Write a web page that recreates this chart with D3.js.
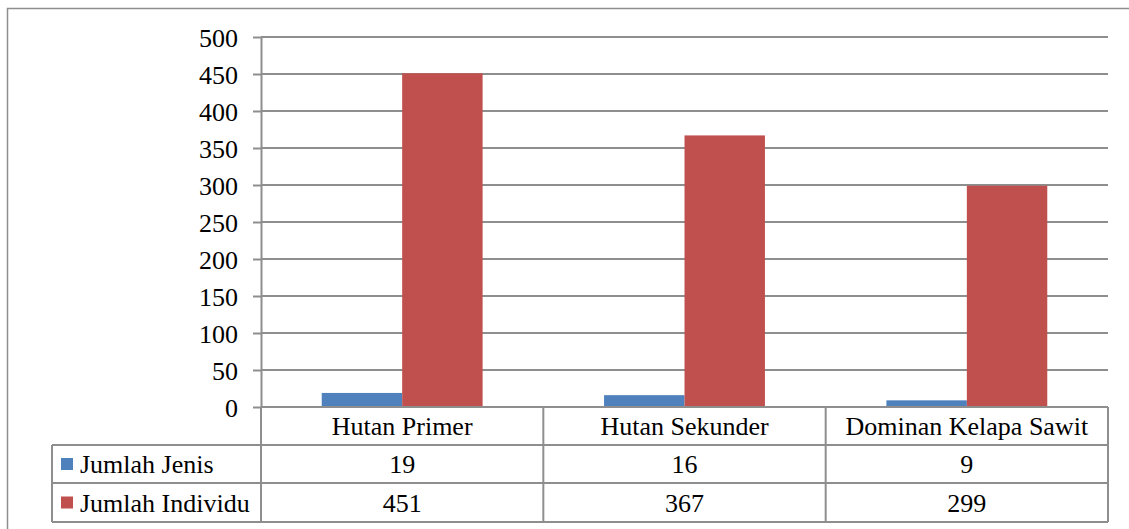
<!DOCTYPE html>
<html>
<head>
<meta charset="utf-8">
<script src="https://cdn.jsdelivr.net/npm/d3@7"></script>
</head>
<body style="margin:0;background:#fff">
<div id="chart"></div>
<script>
const categories = ["Hutan Primer", "Hutan Sekunder", "Dominan Kelapa Sawit"];
const seriesNames = ["Jumlah Jenis", "Jumlah Individu"];
const jumlahJenis = [19, 16, 9];
const jumlahIndividu = [451, 367, 299];
const yTicks = [0, 50, 100, 150, 200, 250, 300, 350, 400, 450, 500];
const colors = ["#4f81bd", "#c0504d"];

const width = 1129, height = 529;
const gridColor = "#8e8e8e";
const font = "Liberation Serif, Times New Roman, serif";
const fontSize = 26;

const plot = { left: 261, right: 1108, top: 37, bottom: 407 };
const rowH = [38, 38, 39]; // category row, series rows
const tableLeft = 52;

const series = [jumlahJenis, jumlahIndividu];

const svg = d3.select("#chart").append("svg")
  .attr("width", width)
  .attr("height", height)
  .style("display", "block");

// set the serif face on every text node directly
const serif = sel => sel
  .attr("font-family", font)
  .attr("font-size", fontSize)
  .style("font-family", font)
  .style("font-size", fontSize + "px")
  .attr("fill", "#000");

// outer frame (runs past the right and bottom edges)
svg.append("rect")
  .attr("x", 7.5).attr("y", 8.5)
  .attr("width", 1300).attr("height", 700)
  .attr("fill", "none")
  .attr("stroke", gridColor)
  .attr("stroke-width", 1.5);

const x0 = d3.scaleBand()
  .domain(categories)
  .range([plot.left, plot.right])
  .padding(0);

const x1 = d3.scaleBand()
  .domain(seriesNames)
  .range([0, x0.bandwidth()])
  .paddingInner(0)
  .paddingOuter(0.755);

const y = d3.scaleLinear()
  .domain([0, 500])
  .range([plot.bottom, plot.top]);

// gridlines
svg.append("g")
  .selectAll("line")
  .data(yTicks.filter(d => d > 0))
  .join("line")
  .attr("x1", plot.left).attr("x2", plot.right)
  .attr("y1", d => y(d)).attr("y2", d => y(d))
  .attr("stroke", gridColor)
  .attr("stroke-width", 2);

// bars
const groups = svg.append("g")
  .selectAll("g")
  .data(categories)
  .join("g")
  .attr("transform", d => `translate(${x0(d)},0)`);

groups.selectAll("rect")
  .data((c, i) => seriesNames.map((s, j) => ({ s, v: series[j][i], j })))
  .join("rect")
  .attr("x", d => x1(d.s))
  .attr("width", x1.bandwidth())
  .attr("y", d => y(d.v))
  .attr("height", d => y(0) - y(d.v))
  .attr("fill", d => colors[d.j]);

// y axis
const yAxis = svg.append("g")
  .attr("transform", `translate(${plot.left},0)`)
  .call(d3.axisLeft(y).tickValues(yTicks).tickSize(8).tickSizeOuter(0).tickPadding(15));

yAxis.select(".domain").attr("stroke", gridColor).attr("stroke-width", 2);
yAxis.selectAll(".tick line").attr("stroke", gridColor).attr("stroke-width", 2);
yAxis.selectAll(".tick text")
  .attr("dy", null)
  .attr("y", 9)
  .call(serif);

// data table under the chart
const rowTop = [plot.bottom, plot.bottom + rowH[0], plot.bottom + rowH[0] + rowH[1]];
const tableBottom = rowTop[2] + rowH[2];
const table = svg.append("g")
  .attr("stroke", gridColor)
  .attr("stroke-width", 2)
  .attr("fill", "none");

// horizontal lines
table.append("line")
  .attr("x1", plot.left).attr("x2", plot.right)
  .attr("y1", rowTop[0]).attr("y2", rowTop[0]);
[rowTop[1], rowTop[2], tableBottom].forEach(yy => {
  table.append("line")
    .attr("x1", tableLeft).attr("x2", plot.right)
    .attr("y1", yy).attr("y2", yy);
});
// vertical lines
table.append("line")
  .attr("x1", tableLeft).attr("x2", tableLeft)
  .attr("y1", rowTop[1]).attr("y2", tableBottom);
categories.forEach(c => {
  table.append("line")
    .attr("x1", x0(c)).attr("x2", x0(c))
    .attr("y1", rowTop[0]).attr("y2", tableBottom);
});
table.append("line")
  .attr("x1", plot.right).attr("x2", plot.right)
  .attr("y1", rowTop[0]).attr("y2", tableBottom);

// category labels
svg.append("g")
  .selectAll("text")
  .data(categories)
  .join("text")
  .attr("x", d => x0(d) + x0.bandwidth() / 2)
  .attr("y", rowTop[0] + rowH[0] / 2 + 9)
  .attr("text-anchor", "middle")
  .call(serif)
  .text(d => d);

// series rows: legend key + values
seriesNames.forEach((name, j) => {
  const cy = rowTop[j + 1] + rowH[j + 1] / 2;
  svg.append("rect")
    .attr("x", 61).attr("y", cy - 6)
    .attr("width", 12).attr("height", 12)
    .attr("fill", colors[j]);
  svg.append("text")
    .attr("x", 80)
    .attr("y", cy + 9)
    .call(serif)
    .text(name);
  svg.append("g")
    .selectAll("text")
    .data(series[j])
    .join("text")
    .attr("x", (d, i) => x0(categories[i]) + x0.bandwidth() / 2)
    .attr("y", cy + 9)
    .attr("text-anchor", "middle")
    .call(serif)
    .text(d => d);
});
</script>
</body>
</html>
